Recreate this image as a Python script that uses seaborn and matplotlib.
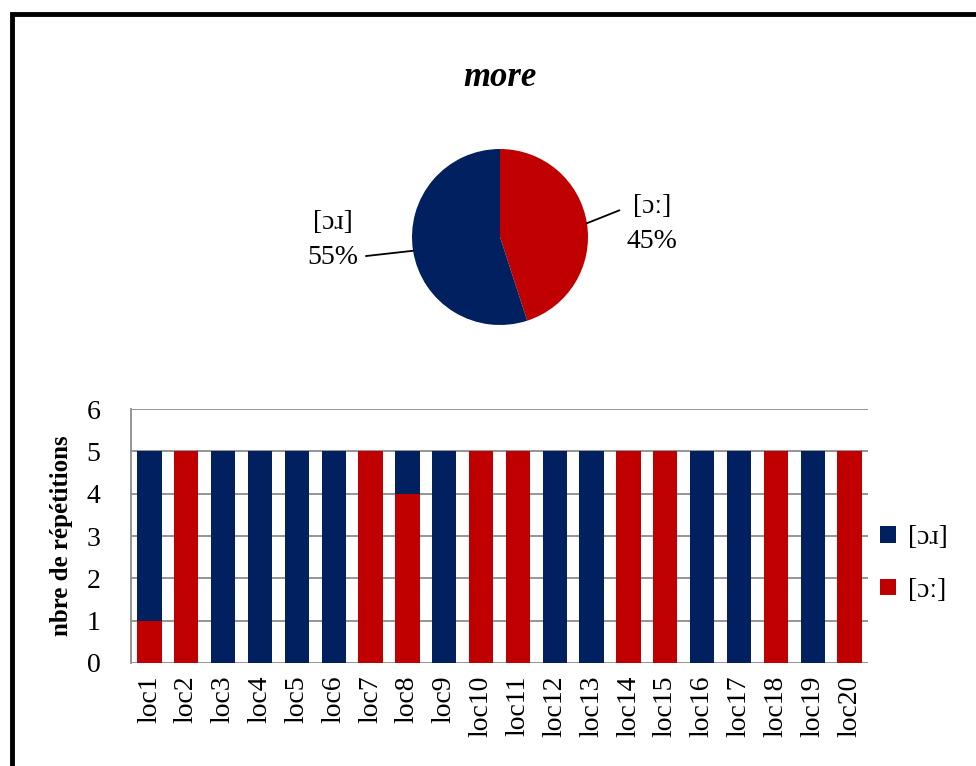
import numpy as np
import pandas as pd
import matplotlib
matplotlib.use("Agg")
import matplotlib.pyplot as plt
import seaborn as sns
from matplotlib.patches import Rectangle

# data
locs = ["loc" + str(i) for i in range(1, 21)]
n_or = [4, 0, 5, 5, 5, 5, 0, 1, 5, 0, 0, 5, 5, 0, 0, 5, 5, 0, 5, 0]   # [ɔɹ]
n_oo = [1, 5, 0, 0, 0, 0, 5, 4, 0, 5, 5, 0, 0, 5, 5, 0, 0, 5, 0, 5]   # [ɔː]
series = ["[ɔɹ]", "[ɔː]"]
pie_pct = [55, 45]
yticks = [0, 1, 2, 3, 4, 5, 6]

BLUE = "#002060"
RED = "#C00000"
GRID = "#8c8c8c"

sns.set_theme(style="white")
plt.rcParams['font.family'] = ['Liberation Serif', 'DejaVu Serif']
plt.rcParams['text.color'] = 'black'

df = pd.DataFrame({"loc": locs, "or": n_or, "oo": n_oo})
df["total"] = df["or"] + df["oo"]

fig = plt.figure(figsize=(9.76, 7.66), dpi=100)

# outer black frame (runs off the right / bottom edge like the reference)
fig.patches.append(Rectangle((12 / 976, -0.05), 1.2, 1 - 14 / 766 + 0.05,
                             transform=fig.transFigure, fill=False,
                             edgecolor="black", linewidth=3.5))

fig.text(500 / 976, 1 - 78 / 766, "more", ha="center", va="center",
         fontsize=25, fontweight="bold", fontstyle="italic")

# pie
axp = fig.add_axes([412 / 976, 1 - 325 / 766, 176 / 976, 176 / 766])
wedges, _ = axp.pie([pie_pct[1], pie_pct[0]], colors=[RED, BLUE],
                    startangle=90, counterclock=False,
                    wedgeprops=dict(linewidth=0))
axp.set_xlim(-1, 1)
axp.set_ylim(-1, 1)
axp.set_aspect("equal")
txt = [f"{series[1]}\n{pie_pct[1]}%", f"{series[0]}\n{pie_pct[0]}%"]
offs = [(0.74, -0.01), (-0.91, 0.12)]
rel = [(0.0, 0.78), (1.0, 0.22)]
for w, t, (dx, dy), rp in zip(wedges, txt, offs, rel):
    ang = np.deg2rad((w.theta1 + w.theta2) / 2)
    x, y = np.cos(ang), np.sin(ang)
    axp.annotate(t, xy=(x, y), xytext=(x + dx, y + dy), ha="center", va="center",
                 fontsize=20, linespacing=1.5, annotation_clip=False,
                 arrowprops=dict(arrowstyle="-", color="black", lw=1.3,
                                 shrinkA=3, shrinkB=0, relpos=rp))

# stacked bars
ax = fig.add_axes([131 / 976, 1 - 663 / 766, 737 / 976, 254 / 766])
sns.barplot(data=df, x="loc", y="total", color=BLUE, width=0.66,
            saturation=1, ax=ax, zorder=3, label=series[0], linewidth=0)
sns.barplot(data=df, x="loc", y="oo", color=RED, width=0.66,
            saturation=1, ax=ax, zorder=4, label=series[1], linewidth=0)

ax.set_ylim(0, 6)
ax.set_yticks(yticks)
ax.set_xlim(-0.5, len(locs) - 0.5)
ax.yaxis.grid(True, color=GRID, linewidth=1.3, zorder=0)
ax.set_axisbelow(True)
for s in ["top", "right", "bottom"]:
    ax.spines[s].set_visible(False)
ax.spines["left"].set_color(GRID)
ax.spines["left"].set_linewidth(1.3)
ax.tick_params(axis="both", length=0, labelsize=20, colors="black")
ax.tick_params(axis="y", pad=22)
ax.tick_params(axis="x", pad=9)
plt.setp(ax.get_xticklabels(), rotation=90)
ax.set_xlabel("")
ax.set_ylabel("nbre de répétitions", fontsize=18, fontweight="bold",
              labelpad=10, color="black")

ax.legend(loc="center left", bbox_to_anchor=(0.998, 0.39), frameon=False,
          fontsize=20, handlelength=0.55, handleheight=0.55,
          handletextpad=0.45, labelspacing=1.0, borderpad=0)

fig.savefig("out.png", dpi=100)
